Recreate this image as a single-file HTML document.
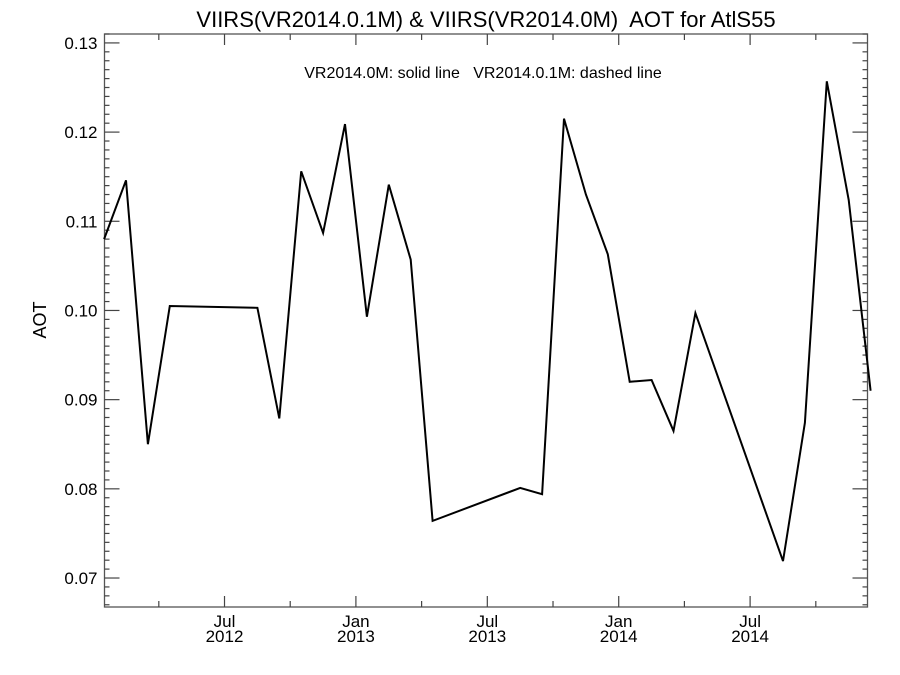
<!DOCTYPE html>
<html><head><meta charset="utf-8"><style>
html,body{margin:0;padding:0;background:#fff}
svg{display:block;font-family:"Liberation Sans",Arial,sans-serif}
svg text{white-space:pre}
</style></head><body>
<svg id="chart" width="900" height="675" xml:space="preserve">
<text x="486" y="27" font-size="22" text-anchor="middle">VIIRS(VR2014.0.1M) &amp; VIIRS(VR2014.0M)  AOT for AtlS55</text>
<text x="483" y="78" font-size="16" text-anchor="middle">VR2014.0M: solid line   VR2014.0.1M: dashed line</text>
<text transform="translate(46,320) rotate(-90)" font-size="18" text-anchor="middle">AOT</text>
<g id="axes"></g>
<g id="marks"></g>
</svg>
<script>
// month index: 0 = 1 Jan 2012
const months = [0.5,1.5,2.5,3.5,7.5,8.5,9.5,10.5,11.5,12.5,13.5,14.5,15.5,19.5,20.5,21.5,22.5,23.5,24.5,25.5,26.5,27.5,31.5,32.5,33.5,34.5,35.5];
const aotSolid = [0.1080,0.1146,0.0850,0.1005,0.1003,0.0879,0.1156,0.1087,0.1209,0.0993,0.1141,0.1057,0.0764,0.0801,0.0794,0.1215,0.1130,0.1063,0.0920,0.0922,0.0865,0.0997,0.0719,0.0874,0.1257,0.1124,0.0910];
const yTicks = [0.07,0.08,0.09,0.10,0.11,0.12,0.13];
const yTickLabels = ["0.07","0.08","0.09","0.10","0.11","0.12","0.13"];
const xTicks = [6,12,18,24,30];
const xTickMonth = ["Jul","Jan","Jul","Jan","Jul"];
const xTickYear = ["2012","2013","2013","2014","2014"];

const L=104.5,R=867.5,T=34,B=607;
const x0=0.52, pxPerMonth=21.9;
const X=m=>L+(m-x0)*pxPerMonth;
const yMin=0.06675,yMax=0.131;
const Y=v=>B-(v-yMin)/(yMax-yMin)*(B-T);
const NS="http://www.w3.org/2000/svg";
const axes=document.getElementById('axes'), marks=document.getElementById('marks');
function mk(tag,attrs,parent){const e=document.createElementNS(NS,tag);for(const k in attrs)e.setAttribute(k,attrs[k]);parent.appendChild(e);return e;}
const frame=mk('rect',{x:L,y:T,width:R-L,height:B-T,fill:'none',stroke:'#555','stroke-width':1.3},axes);


for(let i=Math.ceil(yMin*1000);i<=Math.floor(yMax*1000);i++){
  const v=i/1000, yy=Y(v), major=(i%10===0), len=major?15:5;
  mk('line',{x1:L,x2:L+len,y1:yy,y2:yy,stroke:'#444','stroke-width':1.2},axes);
  mk('line',{x1:R,x2:R-len,y1:yy,y2:yy,stroke:'#444','stroke-width':1.2},axes);
}
yTicks.forEach((v,i)=>{
  const t=mk('text',{x:L-7,y:Y(v)+6,'font-size':17,'text-anchor':'end'},axes);
  t.textContent=yTickLabels[i];
  
  
});
for(let m=3;m<36;m+=3){
  const xx=X(m), major=(m%6===0), len=major?11:6;
  mk('line',{x1:xx,x2:xx,y1:B,y2:B-len,stroke:'#444','stroke-width':1.2},axes);
  mk('line',{x1:xx,x2:xx,y1:T,y2:T+len,stroke:'#444','stroke-width':1.2},axes);
}
xTicks.forEach((m,i)=>{
  const t1=mk('text',{x:X(m),y:627,'font-size':17,'text-anchor':'middle'},axes);
  t1.textContent=xTickMonth[i];
  
  
  const t2=mk('text',{x:X(m),y:642,'font-size':17,'text-anchor':'middle'},axes);
  t2.textContent=xTickYear[i];
  
  
});
const pts=months.map((m,i)=>X(m).toFixed(1)+','+Y(aotSolid[i]).toFixed(1)).join(' ');
const line=mk('polyline',{points:pts,fill:'none',stroke:'#000','stroke-width':2,'stroke-linejoin':'miter'},marks);


</script>
</body></html>
